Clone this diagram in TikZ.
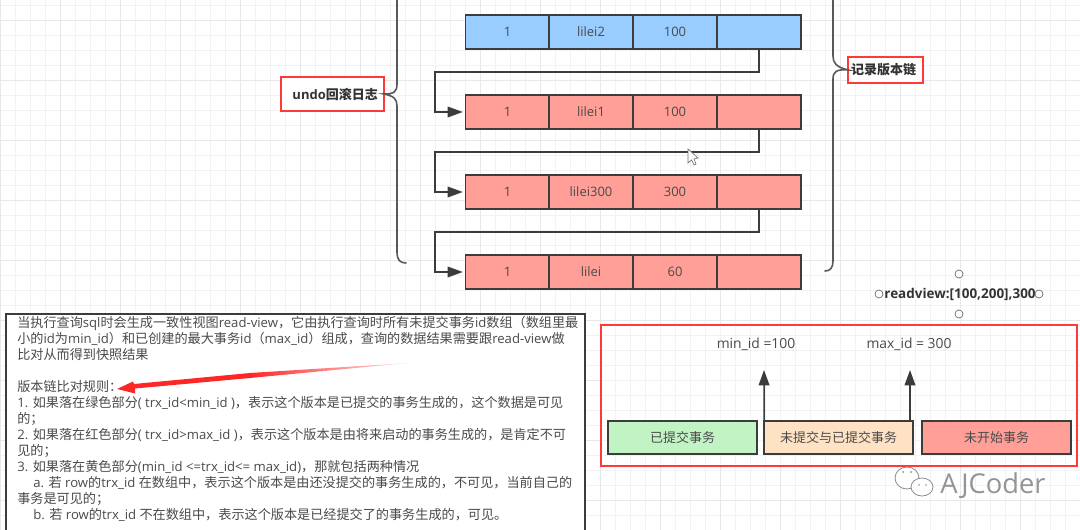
\documentclass[tikz,border=0pt]{standalone}
\usepackage{fontspec}
\setmainfont{Open Sans}
\newfontfamily\zhf{Noto Sans CJK SC}
\newcommand{\zh}[1]{{\zhf #1}}
\usetikzlibrary{arrows.meta}
\definecolor{edgec}{HTML}{3C3C3C}
\definecolor{txtc}{HTML}{4A4A4A}
\definecolor{bluec}{HTML}{99CCFF}
\definecolor{redc}{HTML}{FF9F98}
\definecolor{greenc}{HTML}{C2F3C4}
\definecolor{orangec}{HTML}{FFE2C4}
\definecolor{framec}{HTML}{FF3838}
\tikzset{
  cell/.style={draw=edgec,line width=1.3pt,minimum width=63pt,minimum height=25.2pt,inner sep=0pt,outer sep=0pt,text=txtc,font=\fontsize{9.75}{12}\selectfont},
  blue cell/.style={cell,fill=bluec},
  red cell/.style={cell,fill=redc},
  band/.style={cell,minimum width=111.5pt,minimum height=24.5pt},
  redbox/.style={draw=framec,line width=1.4pt,fill=white,inner sep=0pt,outer sep=0pt,font=\fontsize{9.75}{12}\selectfont\bfseries,text=black!80},
  conn/.style={draw=edgec,line width=1.2pt,-{Triangle[length=11.5pt,width=8pt]},shorten >=2pt},
  brace/.style={draw=black!65,line width=1.2pt,line cap=round},
  dot/.style={circle,draw=black!60,line width=0.5pt,fill=white,minimum size=6pt,inner sep=0pt},
  plain/.style={inner sep=0pt,text=txtc,font=\fontsize{10.4}{12}\selectfont},
}
\begin{document}
\begin{tikzpicture}[x=0.75pt,y=-0.75pt]
\useasboundingbox (0,0) rectangle (1080,530);
\clip (0,0) rectangle (1080,530);
\fill[white] (0,0) rectangle (1080,530);
% grid
\foreach \gx in {0,15,...,1080} \draw[black!5,line width=0.5pt] (\gx,0) -- (\gx,530);
\foreach \gy in {5,20,...,530} \draw[black!5,line width=0.5pt] (0,\gy) -- (1080,\gy);
\foreach \gx in {0,60,...,1080} \draw[black!9,line width=0.6pt] (\gx,0) -- (\gx,530);
\foreach \gy in {20,80,...,530} \draw[black!9,line width=0.6pt] (0,\gy) -- (1080,\gy);
% rows
\foreach \rn/\ry/\st/\ta/\tb/\tc in {1/32/blue cell/1/lilei2/100,2/112/red cell/1/lilei1/100,3/192/red cell/1/lilei300/300,4/272/red cell/1/lilei/60}{
  \node[\st] (r\rn a) at (507.5,\ry) {\ta};
  \node[\st] (r\rn b) at (591,\ry) {\tb};
  \node[\st] (r\rn c) at (675,\ry) {\tc};
  \node[\st] (r\rn d) at (759,\ry) {};
}
% chain connectors
\coordinate (k1) at (435,72);
\coordinate (k2) at (435,152);
\coordinate (k3) at (435,232);
\draw[conn] (r1d.south) |- (k1) |- (r2a.west);
\draw[conn] (r2d.south) |- (k2) |- (r3a.west);
\draw[conn] (r3d.south) |- (k3) |- (r4a.west);
% labels with braces
\node[redbox,minimum width=77pt,minimum height=25.5pt,text depth=0pt] (undo) at (332.5,94) {\hspace*{4pt}undo\zh{回滚日志}};
\node[redbox,minimum width=56pt,minimum height=19.5pt] (rec) at (885.5,70) {\zh{记录版本链}\hspace*{3pt}};
\draw[brace] (397,-5) -- (397,84) .. controls (397,92) and (394,94) .. (undo.east) .. controls (394,96) and (397,99) .. (397,106) -- (397,252) .. controls (397,260) and (400,263) .. (406,263);
\draw[brace] (833,-5) -- (833,56) .. controls (833,63) and (836,67) .. (rec.west) .. controls (836,69) and (833,72) .. (833,79) -- (833,261) .. controls (833,268) and (830,271) .. (825,271);
% cursor
\filldraw[fill=white,draw=black!55,line width=0.5pt] (688,149) -- (688,163) -- (691.5,160) -- (694,165) -- (696,164) -- (694,159) -- (698,158) -- cycle;
% readview
\node[inner sep=0pt,font=\fontsize{10.1}{12}\selectfont\bfseries,text=black!80] (rv) at (960,294) {readview:[100,200],300};
\node[dot] (d1) at (959,274) {};
\node[dot] (d2) at (959,314) {};
\node[dot] (d3) at (879,294) {};
\node[dot] (d4) at (1039,294) {};
% frame
\node[draw=framec,line width=1.4pt,fill=white,minimum width=357pt,minimum height=106pt,inner sep=0pt] (frame) at (839,395.5) {};
\foreach \gx in {615,630,...,1075} \draw[black!5,line width=0.5pt] (\gx,327) -- (\gx,464);
\foreach \gy in {335,350,...,464} \draw[black!5,line width=0.5pt] (603,\gy) -- (1075,\gy);
\node[band,fill=greenc] (g) at (682.5,437.5) {\zh{已提交事务}};
\node[band,fill=orangec] (o) at (838.5,437.5) {\zh{未提交与已提交事务}};
\node[band,fill=redc] (n) at (996.5,437.5) {\zh{未开始事务}};
\node[plain] (minl) at (756,344) {min\_id =100};
\node[plain] (maxl) at (909,344) {max\_id = 300};
\coordinate (a1) at (764,370);
\coordinate (a2) at (910,370);
\draw[conn,shorten >=0pt] (o.north west) -- (a1);
\draw[conn,shorten >=0pt] (o.north west -| a2) -- (a2);
% text box
\fill[white] (6,314) rectangle (585,545);
\draw[draw=edgec,line width=1.1pt] (6,545) -- (6,314) -- (585,314) -- (585,545);
\node[anchor=north west,inner sep=0pt,align=left,text=txtc,font=\fontsize{9.85}{12}\selectfont] (rules) at (17,316) {%
\zh{当执行查询}sql\zh{时会生成一致性视图}read-view\zh{，它由执行查询时所有未提交事务}id\zh{数组（数组里最}\\
\zh{小的}id\zh{为}min\_id\zh{）和已创建的最大事务}id\zh{（}max\_id\zh{）组成，查询的数据结果需要跟}read-view\zh{做}\\
\zh{比对从而得到快照结果}\\
\mbox{}\\
\zh{版本链比对规则：}\\
1. \zh{如果落在绿色部分}( trx\_id<min\_id )\zh{，表示这个版本是已提交的事务生成的，这个数据是可见}\\
\zh{的；}\\
2. \zh{如果落在红色部分}( trx\_id>max\_id )\zh{，表示这个版本是由将来启动的事务生成的，是肯定不可}\\
\zh{见的；}\\
3. \zh{如果落在黄色部分}(min\_id <=trx\_id<= max\_id)\zh{，那就包括两种情况}\\
\hspace*{12pt}a. \zh{若} row\zh{的}trx\_id \zh{在数组中，表示这个版本是由还没提交的事务生成的，不可见，当前自己的}\\
\zh{事务是可见的；}\\
\hspace*{12pt}b. \zh{若} row\zh{的}trx\_id \zh{不在数组中，表示这个版本是已经提交了的事务生成的，可见。}%
};
% red arrow
\shade[left color=red!85!white,right color=red!10!white,draw=none] (250,373) -- (408,363) -- (250,378) -- cycle;
\fill[red!85!white] (250,373) -- (250,378) -- (135,388.5) -- (135,393.5) -- (117,389) -- (133,381.5) -- (134,384) -- cycle;
% watermark
\filldraw[fill=white,draw=black!45,line width=0.6pt] (907,478) ellipse (12 and 11);
\filldraw[fill=white,draw=black!45,line width=0.6pt] (922,487) ellipse (11 and 9);
\fill[black!45] (903,472) circle (1) (911,472) circle (1) (919,485) circle (0.9) (926,485) circle (0.9);
\node[inner sep=0pt,text=black!42,font=\fontsize{20.5}{22}\selectfont] (wm) at (993,486) {AJCoder};
\end{tikzpicture}
\end{document}
